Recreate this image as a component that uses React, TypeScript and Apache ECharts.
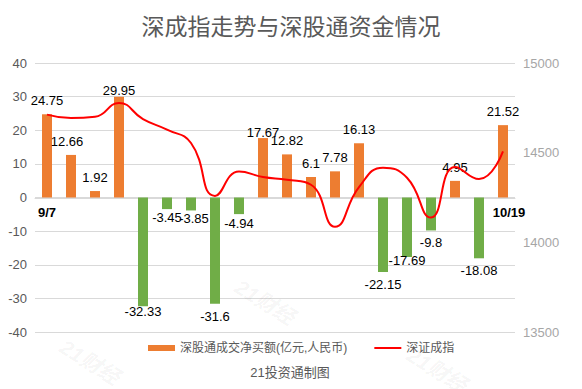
import React, { useEffect, useRef } from "react";
import * as echarts from "echarts";

const dates = ["9/7", "9/8", "9/9", "9/10", "9/13", "9/14", "9/15", "9/16", "9/17", "9/23", "9/24", "9/27", "9/28", "9/29", "9/30", "10/11", "10/12", "10/15", "10/18", "10/19"];
const netBuy = [24.75, 12.66, 1.92, 29.95, -32.33, -3.45, -3.85, -31.6, -4.94, 17.67, 12.82, 6.1, 7.78, 16.13, -22.15, -17.69, -9.8, 4.95, -18.08, 21.52];
const szIndex = [14712, 14693, 14700, 14777, 14687, 14628, 14554, 14259, 14395, 14364, 14349, 14321, 14087, 14308, 14416, 14360, 14138, 14420, 14353, 14507];
const leftTicks = { min: -40, max: 40, interval: 10 };
const rightTicks = { min: 13500, max: 15000, interval: 500 };

const barName = "深股通成交净买额(亿元,人民币)";
const lineName = "深证成指";
const titleText = "深成指走势与深股通资金情况";
const sourceText = "21投资通制图";
const watermark = "21财经";

// label nudges (style only): index -> [dx, dy]
const labelNudge: Record<number, [number, number]> = {
  1: [-4, 0],
  3: [0, 7],
  4: [0, -7],
  5: [0, -4],
  6: [3, -4],
  8: [0, -3],
  9: [0, 8],
  15: [0, -9],
};

const FONT = "'Liberation Sans', 'Noto Sans CJK SC', sans-serif";
const POS = "#ED7D31";
const NEG = "#70AD47";

export default function App() {
  const ref = useRef<HTMLDivElement>(null);
  useEffect(() => {
    if (!ref.current) return;
    const chart = echarts.init(ref.current, null, { renderer: "svg" });
    const last = dates.length - 1;
    const wm = (x: number, y: number) => ({
      type: "text",
      x,
      y,
      rotation: -0.55,
      z: 100,
      silent: true,
      style: {
        text: watermark,
        fontSize: 21,
        fontWeight: "bold",
        fontStyle: "italic",
        fontFamily: FONT,
        fill: "rgba(0,0,0,0.05)",
        align: "center",
        verticalAlign: "middle",
      },
    });
    chart.setOption({
      animation: false,
      textStyle: { fontFamily: FONT },
      title: {
        text: titleText,
        left: "center",
        top: 10,
        textStyle: { fontSize: 23, fontWeight: "normal", color: "#595959", fontFamily: FONT },
      },
      grid: { left: 35, right: 67, top: 63, bottom: 57 },
      legend: {
        left: 148,
        top: 342,
        padding: 0,
        itemWidth: 27,
        itemHeight: 6,
        itemGap: 27,
        textStyle: { fontSize: 12, color: "#595959", fontFamily: FONT },
        data: [
          { name: barName, icon: "rect" },
          { name: lineName, icon: "path://M0,0 L27,0 L27,2 L0,2 Z" },
        ],
      },
      xAxis: {
        type: "category",
        data: dates,
        offset: -134,
        axisLine: { show: true, onZero: false, lineStyle: { color: "#d9d9d9" } },
        axisTick: { show: false },
        axisLabel: {
          interval: 0,
          margin: 8,
          formatter: (v: string, i: number) => (i === 0 ? `{a|${v}}` : i === last ? `{b|${v}}` : ""),
          rich: {
            a: { fontSize: 13, fontWeight: "bold", color: "#000", fontFamily: FONT },
            b: { fontSize: 13, fontWeight: "bold", color: "#000", fontFamily: FONT, padding: [0, 0, 0, 12] },
          },
        },
      },
      yAxis: [
        {
          type: "value",
          ...leftTicks,
          axisLine: { show: false },
          axisTick: { show: false },
          splitLine: { lineStyle: { color: "#d9d9d9" } },
          axisLabel: { fontSize: 13, color: "#595959", margin: 8, formatter: (v: number) => String(v) },
        },
        {
          type: "value",
          ...rightTicks,
          axisLine: { show: false },
          axisTick: { show: false },
          splitLine: { show: false },
          axisLabel: { fontSize: 13, color: "#a6a6a6", margin: 8, formatter: (v: number) => String(v) },
        },
      ],
      series: [
        {
          name: barName,
          type: "bar",
          barWidth: 10,
          itemStyle: { color: POS },
          data: netBuy.map((v, i) => ({
            value: v,
            itemStyle: { color: v >= 0 ? POS : NEG },
            label: {
              position: v >= 0 ? "top" : "bottom",
              distance: v >= 0 ? 7 : 6,
              offset: labelNudge[i] || [0, 0],
            },
          })),
          label: {
            show: true,
            fontSize: 13,
            color: "#000",
            fontFamily: FONT,
          },
        },
        {
          name: lineName,
          type: "line",
          yAxisIndex: 1,
          smooth: true,
          symbol: "none",
          showSymbol: false,
          lineStyle: { color: "#FF0000", width: 2 },
          itemStyle: { color: "#FF0000" },
          data: szIndex,
          z: 5,
        },
      ],
      graphic: [
        {
          type: "text",
          x: 290,
          y: 372,
          style: {
            text: sourceText,
            fontSize: 13,
            fill: "#595959",
            fontFamily: FONT,
            align: "center",
            verticalAlign: "middle",
          },
        },
        wm(265, 302),
        wm(90, 362),
        wm(437, 370),
      ],
    });
    return () => chart.dispose();
  }, []);
  return <div ref={ref} style={{ position: "absolute", left: 0, top: 0, width: 582, height: 389 }} />;
}
